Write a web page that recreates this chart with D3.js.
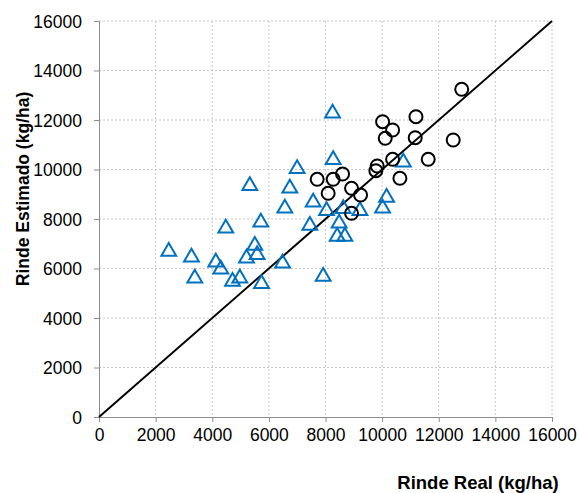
<!DOCTYPE html>
<html>
<head>
  <meta charset="utf-8">
  <script src="https://d3js.org/d3.v7.min.js"></script>
  <style>
    body { margin: 0; background: #fff; }
    text { font-family: "Liberation Sans", Arial, sans-serif; }
  </style>
</head>
<body>
  <div id="my_dataviz"></div>

  <script>
    // Triangles (blue)
    var triReal = [2464, 3266, 3383, 4125, 4302, 4478, 4715, 4973, 5326, 5210, 5503, 5585, 5715, 5740,
                   6482, 6563, 6740, 6998, 7447, 7564, 7918, 8037, 8249, 8271, 8412, 8683, 8482, 8625,
                   9215, 10017, 10158, 10748];
    var triEst  = [6747, 6517, 5669, 6316, 6033, 7689, 5535, 5669, 9402, 6477, 6990, 6614, 7931, 5442,
                   6275, 8497, 9305, 10089, 7798, 8740, 5737, 8392, 12335, 10453, 7354, 7354, 7891, 8473,
                   8392, 8497, 8929, 10356];
    // Circles (black)
    var cirReal = [12811, 11195, 10017, 10370, 10109, 11169, 12511, 11628, 10370, 9826, 9779, 10628,
                   8602, 8271, 7706, 8920, 8094, 9238, 8920];
    var cirEst  = [13240, 12133, 11931, 11596, 11260, 11285, 11192, 10412, 10412, 10141, 9952, 9644,
                   9818, 9604, 9604, 9240, 9038, 8970, 8230];
    var ticks = [0, 2000, 4000, 6000, 8000, 10000, 12000, 14000, 16000];

    var margin = { top: 21, right: 27, bottom: 76, left: 99 },
        width = 579 - margin.left - margin.right,
        height = 493 - margin.top - margin.bottom;

    var svg = d3.select("#my_dataviz")
      .append("svg")
      .attr("width", 579)
      .attr("height", 493)
      .append("g")
      .attr("transform", "translate(" + margin.left + "," + margin.top + ")");

    var x = d3.scaleLinear().domain([0, 16000]).range([0, width]);
    var y = d3.scaleLinear().domain([0, 16000]).range([height, 0]);

    // grid
    svg.append("g").selectAll("line.gx")
      .data(ticks.slice(1))
      .enter().append("line")
      .attr("x1", function(d) { return x(d); }).attr("x2", function(d) { return x(d); })
      .attr("y1", 0).attr("y2", height)
      .style("stroke", "#c8c8c8").style("stroke-dasharray", "2,2");
    svg.append("g").selectAll("line.gy")
      .data(ticks.slice(1))
      .enter().append("line")
      .attr("y1", function(d) { return y(d); }).attr("y2", function(d) { return y(d); })
      .attr("x1", 0).attr("x2", width)
      .style("stroke", "#c8c8c8").style("stroke-dasharray", "2,2");

    // axes
    var xAxis = svg.append("g")
      .attr("transform", "translate(0," + height + ")")
      .call(d3.axisBottom(x).tickValues(ticks).tickFormat(d3.format("d")).tickSize(5).tickPadding(7));
    var yAxis = svg.append("g")
      .call(d3.axisLeft(y).tickValues(ticks).tickFormat(d3.format("d")).tickSize(5).tickPadding(12));
    [xAxis, yAxis].forEach(function(a) {
      a.select(".domain").style("stroke", "#8c8c8c");
      a.selectAll(".tick line").style("stroke", "#8c8c8c");
      a.selectAll(".tick text")
        .style("font-family", "'Liberation Sans', Arial, sans-serif")
        .style("font-size", "17.5px")
        .style("fill", "#000");
    });
    yAxis.selectAll(".tick text").attr("dy", "0.36em");

    // 1:1 line
    svg.append("line")
      .attr("x1", x(0)).attr("y1", y(0))
      .attr("x2", x(16000)).attr("y2", y(16000))
      .style("stroke", "#000").style("stroke-width", 2);

    // triangles
    var tri = d3.symbol().type(d3.symbolTriangle).size(95);
    svg.append("g")
      .selectAll("path")
      .data(triReal.map(function(v, i) { return [v, triEst[i]]; }))
      .enter()
      .append("path")
      .attr("d", tri)
      .attr("transform", function(d) { return "translate(" + x(d[0]) + "," + (y(d[1]) + 1.5) + ")"; })
      .style("fill", "none")
      .style("stroke", "#0070c0")
      .style("stroke-width", 2);

    // circles
    svg.append("g")
      .selectAll("circle")
      .data(cirReal.map(function(v, i) { return [v, cirEst[i]]; }))
      .enter()
      .append("circle")
      .attr("cx", function(d) { return x(d[0]); })
      .attr("cy", function(d) { return y(d[1]); })
      .attr("r", 6.5)
      .style("fill", "none")
      .style("stroke", "#000")
      .style("stroke-width", 2);

    // axis titles
    svg.append("text")
      .attr("x", 478 - margin.left)
      .attr("y", 489 - margin.top)
      .style("text-anchor", "middle")
      .style("font-size", "18.5px")
      .style("font-weight", "bold")
      .text("Rinde Real (kg/ha)");

    svg.append("text")
      .attr("transform", "rotate(-90)")
      .attr("x", -(189 - margin.top))
      .attr("y", 29 - margin.left)
      .style("text-anchor", "middle")
      .style("font-size", "17.5px")
      .style("font-weight", "bold")
      .text("Rinde Estimado (kg/ha)");
  </script>
</body>
</html>
